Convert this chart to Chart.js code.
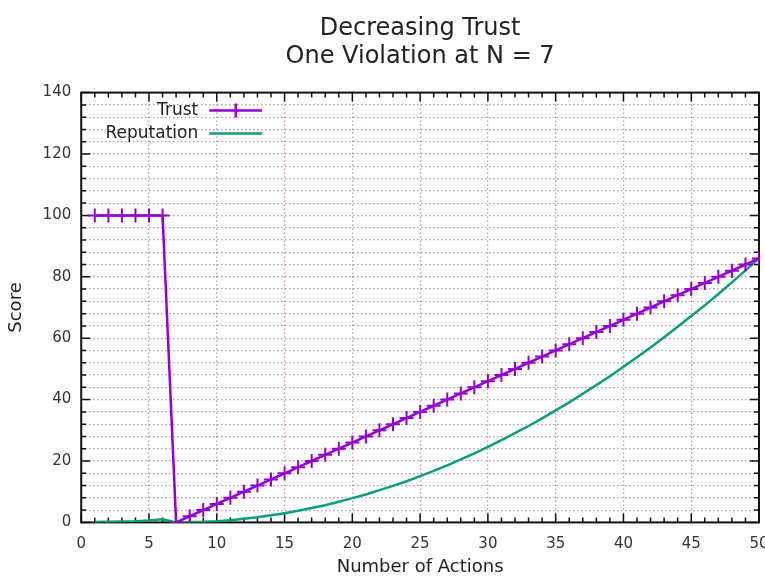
<!DOCTYPE html>
<html>
<head>
<meta charset="utf-8">
<script src="https://cdn.jsdelivr.net/npm/chart.js@4"></script>
<style>
  html, body { margin: 0; padding: 0; background: #fff; overflow: hidden; }
  #wrap { width: 785px; height: 576px; }
</style>
</head>
<body>
<div id="wrap"><canvas id="trustChart" width="785" height="576"></canvas></div>
<script>
const actions = [1, 2, 3, 4, 5, 6, 7, 8, 9, 10, 11, 12, 13, 14, 15, 16, 17, 18, 19, 20,
  21, 22, 23, 24, 25, 26, 27, 28, 29, 30, 31, 32, 33, 34, 35, 36, 37, 38, 39, 40,
  41, 42, 43, 44, 45, 46, 47, 48, 49, 50]
const trust = [100, 100, 100, 100, 100, 100, 0, 2, 4, 6, 8, 10, 12, 14, 16, 18, 20, 22, 24, 26,
  28, 30, 32, 34, 36, 38, 40, 42, 44, 46, 48, 50, 52, 54, 56, 58, 60, 62, 64, 66,
  68, 70, 72, 74, 76, 78, 80, 82, 84, 86]
const reputation = [0.1, 0.2, 0.3, 0.4, 0.6, 1.0, 0, 0.1, 0.2, 0.4, 0.7, 1.2, 1.7, 2.3, 3.0, 3.8, 4.7, 5.6, 6.7, 7.9,
  9.1, 10.5, 11.9, 13.4, 15.1, 16.8, 18.6, 20.5, 22.5, 24.6, 26.8, 29.1, 31.4, 33.9, 36.5, 39.1, 41.9, 44.7, 47.6, 50.7,
  53.8, 57.0, 60.3, 63.7, 67.2, 70.7, 74.4, 78.2, 82.1, 86]
const xTicks = [0, 5, 10, 15, 20, 25, 30, 35, 40, 45, 50]
const yTicks = [0, 20, 40, 60, 80, 100, 120, 140]

const font = '"DejaVu Sans", Verdana, sans-serif'
const gridColor = 'rgba(175, 120, 165, 0.8)'

function toPoints(xs, ys) {
  return xs.map((x, i) => ({x: x, y: ys[i]}))
}

// gnuplot style frame with inward ticks on all four sides, under the lines
const frameTicks = {
  id: 'frameTicks',
  beforeDatasetsDraw(chart) {
    const {ctx, chartArea: a, scales} = chart
    ctx.save()
    ctx.strokeStyle = '#111'
    ctx.lineWidth = 1.5
    ctx.beginPath()
    scales.x.ticks.forEach(t => {
      const px = scales.x.getPixelForValue(t.value)
      const len = xTicks.includes(t.value) ? 9 : 5
      ctx.moveTo(px, a.bottom); ctx.lineTo(px, a.bottom - len)
      ctx.moveTo(px, a.top); ctx.lineTo(px, a.top + len)
    })
    scales.y.ticks.forEach(t => {
      const py = scales.y.getPixelForValue(t.value)
      const len = yTicks.includes(t.value) ? 9 : 5
      ctx.moveTo(a.left, py); ctx.lineTo(a.left + len, py)
      ctx.moveTo(a.right, py); ctx.lineTo(a.right - len, py)
    })
    ctx.stroke()
    ctx.lineWidth = 2
    ctx.strokeRect(a.left, a.top, a.right - a.left, a.bottom - a.top)
    ctx.restore()
  }
}

// key in the top left corner: text first, then the line sample
const keyBox = {
  id: 'keyBox',
  afterDraw(chart) {
    const {ctx, chartArea: a} = chart
    ctx.save()
    ctx.font = '17px ' + font
    ctx.textAlign = 'right'
    ctx.textBaseline = 'middle'
    chart.data.datasets.forEach((ds, i) => {
      const y = a.top + 18 + i * 23
      const textRight = a.left + 117
      ctx.fillStyle = '#222'
      ctx.fillText(ds.label, textRight, y)
      const x0 = textRight + 11, x1 = textRight + 64
      ctx.strokeStyle = ds.borderColor
      ctx.lineWidth = 2.5
      ctx.beginPath()
      ctx.moveTo(x0, y); ctx.lineTo(x1, y)
      if (ds.pointRadius > 0) {
        const cx = (x0 + x1) / 2
        ctx.moveTo(cx, y - 7); ctx.lineTo(cx, y + 7)
      }
      ctx.stroke()
    })
    ctx.restore()
  }
}

const trustChart = new Chart(document.getElementById('trustChart'), {
  type: 'line',
  data: {
    datasets: [{
      label: 'Trust',
      data: toPoints(actions, trust),
      borderColor: '#9400d3',
      backgroundColor: '#9400d3',
      borderWidth: 2.5,
      pointStyle: 'cross',
      pointRadius: 7,
      pointBorderWidth: 2,
      tension: 0
    }, {
      label: 'Reputation',
      data: toPoints(actions, reputation),
      borderColor: '#0c9e74',
      backgroundColor: '#0c9e74',
      borderWidth: 2.5,
      pointRadius: 0,
      tension: 0
    }]
  },
  options: {
    responsive: false,
    animation: false,
    layout: {padding: {left: 6, right: 26, top: 0, bottom: 0}},
    plugins: {
      legend: {display: false},
      tooltip: {enabled: false},
      title: {
        display: true,
        fullSize: false,
        text: ['Decreasing Trust', 'One Violation at N = 7'],
        color: '#222',
        font: {family: font, size: 24, weight: 'normal', lineHeight: 1.2},
        padding: {top: 14, bottom: 21}
      }
    },
    scales: {
      x: {
        type: 'linear',
        min: 0,
        max: 50,
        title: {display: true, text: 'Number of Actions', color: '#222',
          font: {family: font, size: 18}, padding: {top: -10, bottom: -2}},
        ticks: {
          stepSize: 1,
          autoSkip: false,
          maxRotation: 0,
          color: '#333',
          font: {family: font, size: 15},
          padding: 13,
          callback: v => xTicks.includes(v) ? String(v) : ''
        },
        grid: {
          drawTicks: false,
          color: ctx => (xTicks.includes(ctx.tick.value) && ctx.tick.value > 0 && ctx.tick.value < 50) ? gridColor : 'rgba(0,0,0,0)',
          lineWidth: 1.2
        },
        border: {display: false, dash: [1.5, 2.5]}
      },
      y: {
        min: 0,
        max: 140,
        title: {display: true, text: 'Score', color: '#222',
          font: {family: font, size: 18}, padding: {top: 0, bottom: 5}},
        ticks: {
          stepSize: 4,
          autoSkip: false,
          color: '#333',
          font: {family: font, size: 15},
          padding: 10,
          callback: v => yTicks.includes(v) ? String(v) : ''
        },
        grid: {
          drawTicks: false,
          color: ctx => (ctx.tick.value > 0 && ctx.tick.value < 140) ? gridColor : 'rgba(0,0,0,0)',
          lineWidth: 1.2
        },
        border: {display: false, dash: [1.5, 2.5]}
      }
    }
  },
  plugins: [frameTicks, keyBox]
})
</script>
</body>
</html>
